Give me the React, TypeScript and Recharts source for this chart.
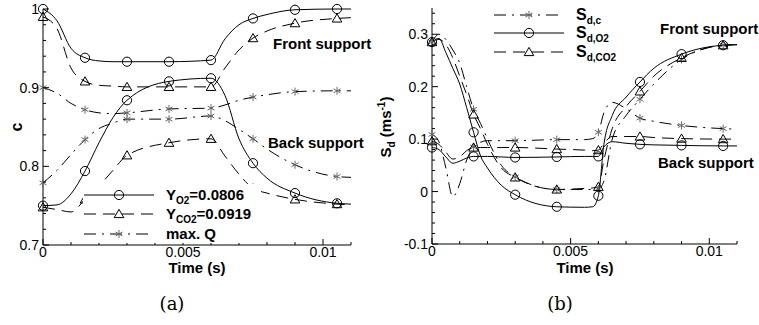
import React from "react";
import { LineChart, Line, XAxis, YAxis } from "recharts";

// times where symbols are drawn
const markerTimes = [0, 0.0015, 0.003, 0.0045, 0.006, 0.0075, 0.009, 0.0105];

// panel (a): progress variable c
const timeA = [0, 0.0005, 0.001, 0.0015, 0.002, 0.0025, 0.003, 0.0045, 0.006, 0.0065, 0.007, 0.0075, 0.008, 0.009, 0.0105, 0.011];
const frontO2A = [1.0, 0.985, 0.95, 0.938, 0.934, 0.933, 0.933, 0.933, 0.935, 0.962, 0.98, 0.988, 0.993, 0.999, 1.0, 1.0];
const frontCO2A = [0.99, 0.975, 0.925, 0.908, 0.903, 0.902, 0.901, 0.901, 0.901, 0.925, 0.948, 0.963, 0.972, 0.982, 0.988, 0.989];
const frontQA = [0.9, 0.893, 0.88, 0.872, 0.868, 0.867, 0.868, 0.873, 0.874, 0.878, 0.884, 0.888, 0.891, 0.895, 0.896, 0.896];
const backO2A = [0.75, 0.751, 0.765, 0.794, 0.83, 0.862, 0.884, 0.908, 0.912, 0.89, 0.835, 0.804, 0.785, 0.766, 0.753, 0.752];
const backCO2A = [0.748, 0.745, 0.742, 0.758, 0.775, 0.795, 0.814, 0.83, 0.835, 0.813, 0.79, 0.772, 0.766, 0.758, 0.752, 0.751];
const backQA = [0.779, 0.795, 0.815, 0.834, 0.848, 0.855, 0.86, 0.86, 0.864, 0.858, 0.847, 0.835, 0.822, 0.802, 0.787, 0.786];

// panel (b): displacement speed Sd
const timeB = [0, 0.00025, 0.0005, 0.00075, 0.001, 0.00125, 0.0015, 0.00175, 0.002, 0.0025, 0.003, 0.0045, 0.0055, 0.0058, 0.006, 0.0062, 0.0065, 0.007, 0.0075, 0.008, 0.009, 0.0105, 0.011];
const frontSdO2 = [0.285, 0.292, 0.265, 0.235, 0.205, 0.16, 0.113, 0.068, 0.045, 0.012, -0.006, -0.029, -0.03, -0.029, -0.008, 0.09, 0.145, 0.18, 0.209, 0.235, 0.262, 0.279, 0.28];
const frontSdCO2 = [0.285, 0.29, 0.28, 0.255, 0.22, 0.185, 0.147, 0.12, 0.09, 0.045, 0.027, 0.004, 0.006, 0.007, 0.009, 0.06, 0.12, 0.162, 0.191, 0.22, 0.255, 0.279, 0.28];
const frontSdc = [0.285, 0.3, 0.29, 0.27, 0.245, 0.2, 0.157, 0.13, 0.1, 0.05, 0.028, 0.004, 0.004, 0.004, 0.005, 0.02, 0.1, 0.145, 0.176, 0.205, 0.252, 0.279, 0.28];
const backSdO2 = [0.084, 0.08, 0.066, 0.054, 0.058, 0.064, 0.067, 0.067, 0.067, 0.066, 0.065, 0.066, 0.067, 0.067, 0.067, 0.085, 0.095, 0.092, 0.09, 0.089, 0.088, 0.087, 0.087];
const backSdCO2 = [0.096, 0.09, 0.075, 0.062, 0.066, 0.078, 0.084, 0.084, 0.084, 0.084, 0.084, 0.081, 0.079, 0.078, 0.079, 0.092, 0.105, 0.105, 0.105, 0.103, 0.101, 0.1, 0.1];
const backSdc = [0.109, 0.095, 0.045, -0.01, 0.015, 0.06, 0.085, 0.094, 0.097, 0.097, 0.097, 0.099, 0.099, 0.101, 0.113, 0.15, 0.17, 0.158, 0.14, 0.134, 0.126, 0.12, 0.119];

// axis ticks
const xTicks = [0, 0.001, 0.002, 0.003, 0.004, 0.005, 0.006, 0.007, 0.008, 0.009, 0.01, 0.011];
const xMajor = [0, 0.005, 0.01];
const yTicksA = [0.7, 0.72, 0.74, 0.76, 0.78, 0.8, 0.82, 0.84, 0.86, 0.88, 0.9, 0.92, 0.94, 0.96, 0.98, 1];
const yMajorA = [0.7, 0.8, 0.9, 1];
const yTicksB = [-0.1, -0.08, -0.06, -0.04, -0.02, 0, 0.02, 0.04, 0.06, 0.08, 0.1, 0.12, 0.14, 0.16, 0.18, 0.2, 0.22, 0.24, 0.26, 0.28, 0.3, 0.32, 0.34];
const yMajorB = [-0.1, 0, 0.1, 0.2, 0.3];

const dataA = timeA.map((t, i) => ({
  t,
  fO2: frontO2A[i],
  fCO2: frontCO2A[i],
  fQ: frontQA[i],
  bO2: backO2A[i],
  bCO2: backCO2A[i],
  bQ: backQA[i],
}));

const dataB = timeB.map((t, i) => ({
  t,
  fO2: frontSdO2[i],
  fCO2: frontSdCO2[i],
  fC: frontSdc[i],
  bO2: backSdO2[i],
  bCO2: backSdCO2[i],
  bC: backSdc[i],
}));

const FONT = "'Liberation Sans', Arial, Helvetica, sans-serif";
const DASH = "12 7";
const DASHDOT = "12 6 2 6";
const STAR = "#666";

const near = (list: number[], v: number) => list.some((m) => Math.abs(m - v) < 1e-9);

type Shape = "circle" | "triangle" | "star";

function Marker({ shape, cx, cy }: { shape: Shape; cx: number; cy: number }) {
  if (shape === "circle") {
    return <circle cx={cx} cy={cy} r={4.6} fill="none" stroke="#000" strokeWidth={1} />;
  }
  if (shape === "triangle") {
    const pts = `${cx},${cy - 4.6} ${cx + 4.8},${cy + 3.6} ${cx - 4.8},${cy + 3.6}`;
    return <polygon points={pts} fill="none" stroke="#000" strokeWidth={1} />;
  }
  const r = 4;
  const arms = [90, 30, 150].map((deg) => {
    const a = (deg * Math.PI) / 180;
    return [r * Math.cos(a), r * Math.sin(a)];
  });
  return (
    <g stroke={STAR} strokeWidth={1}>
      {arms.map(([dx, dy], i) => (
        <line key={i} x1={cx - dx} y1={cy - dy} x2={cx + dx} y2={cy + dy} />
      ))}
    </g>
  );
}

const makeDot = (shape: Shape) => (p: any) => {
  const key = `${shape}-${p.index}`;
  if (p.cx == null || p.cy == null || !near(markerTimes, p.payload.t)) return <g key={key} />;
  return (
    <g key={key}>
      <Marker shape={shape} cx={p.cx} cy={p.cy} />
    </g>
  );
};

const XTick = (props: any) => {
  const { x, y, payload } = props;
  const v = payload.value;
  const major = near(xMajor, v);
  return (
    <g>
      <line x1={x} x2={x} y1={y} y2={y - (major ? 6 : 3)} stroke="#000" />
      {major && (
        <text x={x} y={y + 12} textAnchor="middle" fontSize={14} fontFamily={FONT} fill="#000">
          {String(v)}
        </text>
      )}
    </g>
  );
};

const makeYTick = (majors: number[]) => (props: any) => {
  const { x, y, payload } = props;
  const v = payload.value;
  const major = near(majors, v);
  return (
    <g>
      <line x1={x} x2={x + (major ? 6 : 3)} y1={y} y2={y} stroke="#000" />
      {major && (
        <text x={x - 4} y={y + 5} textAnchor="end" fontSize={14} fontFamily={FONT} fill="#000">
          {String(Math.round(v * 10) / 10)}
        </text>
      )}
    </g>
  );
};

const lineProps = {
  type: "monotone" as const,
  stroke: "#000",
  strokeWidth: 1,
  isAnimationActive: false,
  activeDot: false as const,
};

function LegendRow({ x, y, dash, shape, children }: { x: number; y: number; dash?: string; shape: Shape; children: React.ReactNode }) {
  return (
    <g>
      <line x1={x} x2={x + 70} y1={y} y2={y} stroke="#000" strokeDasharray={dash} />
      <Marker shape={shape} cx={x + 35} cy={y} />
      <text x={x + 82} y={y + 5} fontSize={15} fontWeight="bold" fontFamily={FONT} fill="#000">
        {children}
      </text>
    </g>
  );
}

export default function App() {
  return (
    <div style={{ position: "absolute", left: 0, top: 0, width: 759, height: 325, background: "#fff" }}>
      <div style={{ position: "absolute", left: 0, top: 0 }}>
        <LineChart width={380} height={280} data={dataA} margin={{ top: 9, right: 29, bottom: 5, left: 0 }}>
          <XAxis
            dataKey="t"
            type="number"
            domain={[0, 0.011]}
            ticks={xTicks}
            interval={0}
            height={30}
            tickSize={0}
            tickMargin={0}
            tickLine={false}
            axisLine={{ stroke: "#000" }}
            tick={XTick}
          />
          <YAxis
            type="number"
            domain={[0.7, 1]}
            ticks={yTicksA}
            interval={0}
            width={43}
            tickSize={0}
            tickMargin={0}
            tickLine={false}
            axisLine={{ stroke: "#000" }}
            tick={makeYTick(yMajorA)}
          />
          <Line {...lineProps} dataKey="fO2" dot={makeDot("circle")} />
          <Line {...lineProps} dataKey="fCO2" strokeDasharray={DASH} dot={makeDot("triangle")} />
          <Line {...lineProps} dataKey="fQ" strokeDasharray={DASHDOT} dot={makeDot("star")} />
          <Line {...lineProps} dataKey="bO2" dot={makeDot("circle")} />
          <Line {...lineProps} dataKey="bCO2" strokeDasharray={DASH} dot={makeDot("triangle")} />
          <Line {...lineProps} dataKey="bQ" strokeDasharray={DASHDOT} dot={makeDot("star")} />
        </LineChart>
      </div>

      <div style={{ position: "absolute", left: 380, top: 0 }}>
        <LineChart width={379} height={280} data={dataB} margin={{ top: 8, right: 22, bottom: 6, left: 0 }}>
          <XAxis
            dataKey="t"
            type="number"
            domain={[0, 0.011]}
            ticks={xTicks}
            interval={0}
            height={30}
            tickSize={0}
            tickMargin={0}
            tickLine={false}
            axisLine={{ stroke: "#000" }}
            tick={XTick}
          />
          <YAxis
            type="number"
            domain={[-0.1, 0.35]}
            ticks={yTicksB}
            interval={0}
            width={52}
            tickSize={0}
            tickMargin={0}
            tickLine={false}
            axisLine={{ stroke: "#000" }}
            tick={makeYTick(yMajorB)}
          />
          <Line {...lineProps} dataKey="fC" strokeDasharray={DASHDOT} dot={makeDot("star")} />
          <Line {...lineProps} dataKey="fO2" dot={makeDot("circle")} />
          <Line {...lineProps} dataKey="fCO2" strokeDasharray={DASH} dot={makeDot("triangle")} />
          <Line {...lineProps} dataKey="bC" strokeDasharray={DASHDOT} dot={makeDot("star")} />
          <Line {...lineProps} dataKey="bO2" dot={makeDot("circle")} />
          <Line {...lineProps} dataKey="bCO2" strokeDasharray={DASH} dot={makeDot("triangle")} />
        </LineChart>
      </div>

      {/* labels, legends, captions */}
      <svg width={759} height={325} style={{ position: "absolute", left: 0, top: 0, pointerEvents: "none" }}>
        <g fontFamily={FONT} fontWeight="bold" fill="#000">
          <text x={273} y={49} fontSize={15}>Front support</text>
          <text x={268} y={148} fontSize={15}>Back support</text>
          <text x={660} y={34} fontSize={15}>Front support</text>
          <text x={658} y={168} fontSize={15}>Back support</text>
          <text x={197} y={273} fontSize={15} textAnchor="middle">Time (s)</text>
          <text x={585} y={273} fontSize={15} textAnchor="middle">Time (s)</text>
          <text transform="translate(22,127) rotate(-90)" fontSize={16} textAnchor="middle">c</text>
          <text transform="translate(391,127) rotate(-90)" fontSize={15} textAnchor="middle">
            S<tspan fontSize={10} dy={4}>d</tspan>
            <tspan dy={-4}> (ms</tspan>
            <tspan fontSize={10} dy={-6}>-1</tspan>
            <tspan dy={6}>)</tspan>
          </text>
        </g>

        <rect x={83} y={184} width={178} height={59} fill="#fff" />
        <LegendRow x={84} y={195} shape="circle">
          Y<tspan fontSize={10} dy={4}>O2</tspan>
          <tspan dy={-4}>=0.0806</tspan>
        </LegendRow>
        <LegendRow x={84} y={214} shape="triangle" dash={DASH}>
          Y<tspan fontSize={10} dy={4}>CO2</tspan>
          <tspan dy={-4}>=0.0919</tspan>
        </LegendRow>
        <LegendRow x={84} y={234} shape="star" dash={DASHDOT}>
          max. Q
        </LegendRow>

        <rect x={493} y={5} width={120} height={57} fill="#fff" />
        <LegendRow x={494} y={15} shape="star" dash={DASHDOT}>
          <tspan fontSize={16}>S</tspan>
          <tspan fontSize={10} dy={4}>d,c</tspan>
        </LegendRow>
        <LegendRow x={494} y={33} shape="circle">
          <tspan fontSize={16}>S</tspan>
          <tspan fontSize={10} dy={4}>d,O2</tspan>
        </LegendRow>
        <LegendRow x={494} y={52} shape="triangle" dash={DASH}>
          <tspan fontSize={16}>S</tspan>
          <tspan fontSize={10} dy={4}>d,CO2</tspan>
        </LegendRow>

        <text x={172} y={310} fontSize={18} textAnchor="middle" fontFamily="'DejaVu Serif', serif" fill="#000">(a)</text>
        <text x={560} y={310} fontSize={18} textAnchor="middle" fontFamily="'DejaVu Serif', serif" fill="#000">(b)</text>
      </svg>
    </div>
  );
}
